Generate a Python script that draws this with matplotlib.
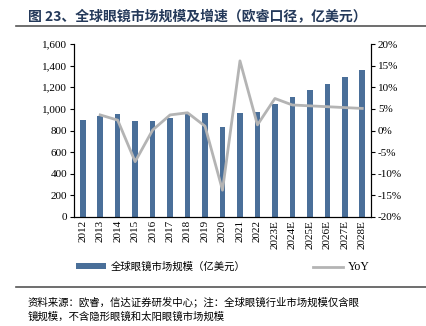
import matplotlib.pyplot as plt
import matplotlib.ticker as mticker

plt.rcParams['font.family'] = ['Liberation Serif', 'Noto Sans CJK SC']

years = ['2012', '2013', '2014', '2015', '2016', '2017', '2018', '2019', '2020',
         '2021', '2022', '2023E', '2024E', '2025E', '2026E', '2027E', '2028E']
market_size = [897, 934, 953, 888, 888, 913, 950, 962, 829,
               962, 974, 1048, 1107, 1172, 1233, 1298, 1360]
yoy_years = years[1:]
yoy = [3.6, 2.4, -7.2, 0.1, 3.6, 4.1, 1.0, -13.8,
       16.1, 1.3, 7.4, 5.9, 5.7, 5.5, 5.3, 5.1]

bar_color = '#4a6f99'
line_color = '#b4b4b4'
cjk = ['Noto Sans CJK SC', 'DejaVu Sans']

fig = plt.figure(figsize=(4.27, 3.26), dpi=100)
ax = fig.add_axes([74 / 427, 1 - 217 / 326, 297 / 427, 173 / 326])
ax2 = ax.twinx()

x = list(range(len(years)))
bars = ax.bar(x, market_size, width=0.32, color=bar_color, zorder=2)
xi = [years.index(y) for y in yoy_years]
line, = ax2.plot(xi, yoy, color=line_color, linewidth=2, zorder=3)

ax.set_ylim(0, 1600)
ax.set_yticks(range(0, 1601, 200))
ax.yaxis.set_major_formatter(mticker.FuncFormatter(lambda v, p: f'{int(v):,}'))
ax.set_xlim(-0.5, len(years) - 0.5)
ax.set_xticks(x)
ax.set_xticklabels(years, rotation=90, fontsize=8)
ax2.set_ylim(-20, 20)
ax2.set_yticks(range(-20, 21, 5))
ax2.yaxis.set_major_formatter(mticker.FuncFormatter(lambda v, p: f'{int(v)}%'))

for a in (ax, ax2):
    a.tick_params(labelsize=8, length=3, width=0.8, direction='out', pad=2)
    a.spines['top'].set_visible(False)
    for s in ('left', 'right', 'bottom'):
        a.spines[s].set_linewidth(0.8)
ax.tick_params(axis='x', length=0)
ax.set_zorder(ax2.get_zorder() - 1)
ax.patch.set_visible(False)

leg = fig.legend([bars, line], ['全球眼镜市场规模（亿美元）', 'YoY'],
                 loc='center', bbox_to_anchor=(223 / 427, 1 - 267 / 326), ncol=2,
                 frameon=False, handlelength=2.8, columnspacing=6.5,
                 handleheight=0.5, handletextpad=0.5,
                 prop={'family': cjk, 'size': 7.5})
leg.get_texts()[1].set_family('Liberation Serif')
leg.get_texts()[1].set_fontsize(8.5)

fig.text(28 / 427, 1 - 17 / 326, '图 23、全球眼镜市场规模及增速（欧睿口径，亿美元）',
         fontsize=10, fontweight='bold', color='#24395a', family=cjk, va='center')
fig.add_artist(plt.Line2D([16 / 427, 1], [1 - 26 / 326] * 2, color='#555555', lw=1.2))
fig.add_artist(plt.Line2D([16 / 427, 1], [1 - 287 / 326] * 2, color='#555555', lw=1.2))
fig.text(28 / 427, 1 - 302 / 326,
         '资料来源：欧睿，信达证券研发中心；注：全球眼镜行业市场规模仅含眼',
         fontsize=7.5, style='italic', family=cjk, va='center')
fig.text(28 / 427, 1 - 317 / 326, '镜规模，不含隐形眼镜和太阳眼镜市场规模',
         fontsize=7.5, style='italic', family=cjk, va='center')

fig.savefig('out.png', dpi=100)
